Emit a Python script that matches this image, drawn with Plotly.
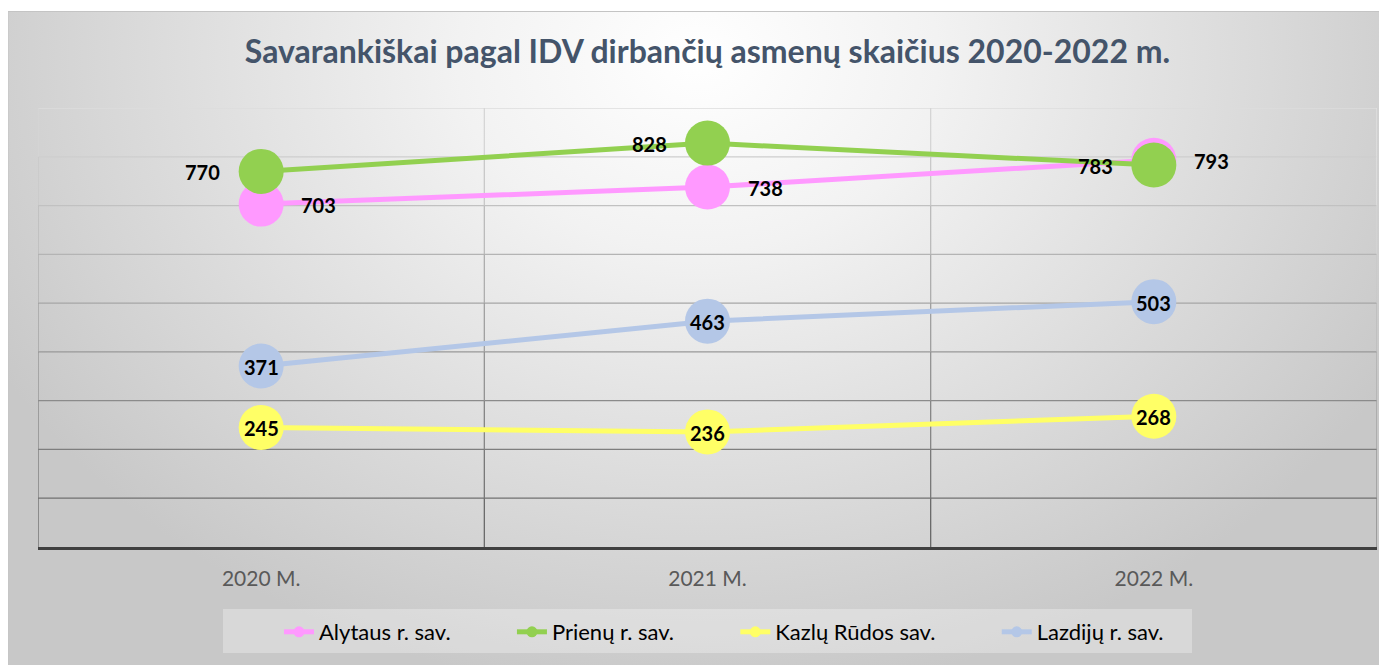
import base64
import plotly.graph_objects as go

# ---------------- data ----------------
years = ["2020 M.", "2021 M.", "2022 M."]
alytaus = [703, 738, 793]
prienu = [770, 828, 783]
kazlu = [245, 236, 268]
lazdiju = [371, 463, 503]

series_names = ["Alytaus r. sav.", "Prienų r. sav.", "Kazlų Rūdos sav.", "Lazdijų r. sav."]
series_values = [alytaus, prienu, kazlu, lazdiju]
series_colors = ["#FF99FF", "#92D050", "#FFFF66", "#B4C7E7"]
label_side = ["right", "left", "center", "center"]

grid_values = [100, 200, 300, 400, 500, 600, 700, 800, 900]
title_text = "Savarankiškai pagal IDV dirbančių asmenų skaičius 2020-2022 m."

# ---------------- geometry (figure px; page body adds an 8px offset) ----------------
W, H = 1387, 665
ML, MT = 30, 100
PW, PH = 1339, 439
MR = W - ML - PW
MB = H - MT - PH
PB = MT + PH  # plot bottom in figure px

FONT = "Lato"


def px_x(fx):
    return (fx - ML) / PW


def px_y(fy):
    return (PB - fy) / PH


fig = go.Figure()

# background gradient (style only)
svg = f'''<svg xmlns="http://www.w3.org/2000/svg" width="{W}" height="{H}" viewBox="0 0 {W} {H}" preserveAspectRatio="none">
<defs><radialGradient id="g" cx="690" cy="50" r="800" gradientUnits="userSpaceOnUse"
 gradientTransform="translate(690 50) scale(1 0.8) translate(-690 -50)">
<stop offset="0" stop-color="#ffffff"/><stop offset="0.3" stop-color="#f2f2f2"/><stop offset="1" stop-color="#c8c8c8"/></radialGradient></defs>
<rect width="{W}" height="{H}" fill="#ffffff"/>
<rect x="0" y="3.5" width="{W}" height="{H}" fill="url(#g)" stroke="#c4c4c4" stroke-width="1"/>
</svg>'''
src = "data:image/svg+xml;base64," + base64.b64encode(svg.encode()).decode()
fig.add_layout_image(dict(source=src, xref="paper", yref="paper",
                          x=px_x(0), y=px_y(0), sizex=W / PW, sizey=H / PH,
                          xanchor="left", yanchor="top", sizing="stretch", layer="below"))

# legend box
fig.add_shape(type="rect", xref="paper", yref="paper",
              x0=px_x(215), x1=px_x(1184), y0=px_y(645), y1=px_y(601),
              fillcolor="rgba(255,255,255,0.3)", line=dict(width=0), layer="below")


def grid_color(v):
    c = int(round(112 + (v - 100) / 800 * 108))
    c = max(90, min(225, c))
    return f"rgb({c},{c},{c})"


# horizontal gridlines
for v in grid_values:
    fig.add_shape(type="line", xref="paper", yref="y", x0=0, x1=1, y0=v, y1=v,
                  line=dict(color=grid_color(v), width=1.3), layer="below")
# vertical category boundaries
bounds = [-0.5, 0.5, 1.5, 2.5]
for b in bounds:
    for v in [0] + grid_values[:-1]:
        fig.add_shape(type="line", xref="x", yref="y", x0=b, x1=b, y0=v, y1=v + 100,
                      line=dict(color=grid_color(v + 50) if b != 2.5 else grid_color(v + 250), width=1.3),
                      layer="below")

xs = list(range(len(years)))
for name, vals, col in zip(series_names, series_values, series_colors):
    fig.add_trace(go.Scatter(x=xs, y=vals, mode="lines+markers", name=name,
                             line=dict(color=col, width=5),
                             marker=dict(size=45, color=col, line=dict(width=0)),
                             showlegend=False, hoverinfo="skip"))
# legend entries
for k, (name, col) in enumerate(zip(series_names, series_colors)):
    pad = "\u00a0" * 10 if k < len(series_names) - 1 else ""
    fig.add_trace(go.Scatter(x=[None], y=[None], mode="lines+markers",
                             name=name + pad,
                             line=dict(color=col, width=5),
                             marker=dict(size=11, color=col)))

# data labels
for vals, side in zip(series_values, label_side):
    for i, v in enumerate(vals):
        if side == "right":
            xa, xs_ = "left", 38
        elif side == "left":
            xa, xs_ = "right", -39
        else:
            xa, xs_ = "center", 0
        fig.add_annotation(x=i, y=v, xref="x", yref="y", text=str(v), showarrow=False,
                           xanchor=xa, yanchor="middle", xshift=xs_, yshift=-1,
                           font=dict(family=FONT, size=20, color="#000000", weight="bold"))

fig.update_layout(
    width=W, height=H,
    margin=dict(l=ML, r=MR, t=MT, b=MB),
    paper_bgcolor="#ffffff",
    plot_bgcolor="rgba(0,0,0,0)",
    title=dict(text=title_text, x=0.5, xref="paper", xanchor="center",
               y=1 - 44 / H, yref="container", yanchor="middle",
               font=dict(family=FONT, size=32, color="#44546A", weight="bold")),
    xaxis=dict(range=[-0.5, 2.5], tickmode="array", tickvals=xs, ticktext=years,
               showgrid=False, zeroline=False, showline=True, linecolor="#404040", linewidth=3,
               ticks="", ticklabelstandoff=11,
               tickfont=dict(family=FONT, size=21, color="#595959"), fixedrange=True),
    yaxis=dict(range=[0, 900], showgrid=False, zeroline=False, showticklabels=False,
               showline=False, fixedrange=True),
    legend=dict(orientation="h", x=px_x(271), xanchor="left", xref="paper",
                y=1 - 624 / H, yref="container", yanchor="middle",
                bgcolor="rgba(0,0,0,0)", borderwidth=0,
                font=dict(family=FONT, size=22, color="#000000"),
                itemclick=False, itemdoubleclick=False),
    showlegend=True,
)

fig.write_html("out.html")
